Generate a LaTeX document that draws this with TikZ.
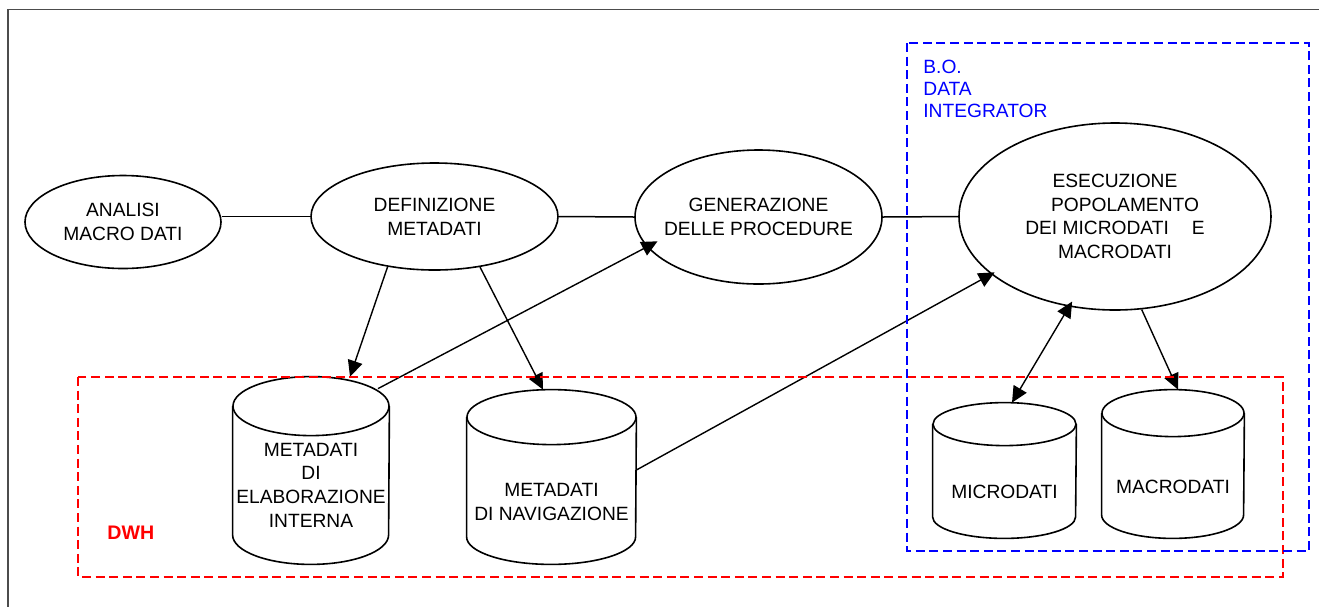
\documentclass[tikz,border=0pt]{standalone}
\usepackage{fontspec}
\setmainfont{Liberation Sans}
\usetikzlibrary{shapes.geometric,arrows.meta}

% Cylinder outline around a rectangular node: #1 node, #2 x radius, #3 y radius of the caps
\newcommand\drawdb[3]{%
  \draw[dbline] ([yshift=-#3]#1.north) ellipse [x radius=#2, y radius=#3];
  \draw[dbline] ([yshift=-#3]#1.north west) -- ([yshift=#3]#1.south west)
    arc[start angle=180, end angle=360, x radius=#2, y radius=#3]
    -- ([yshift=-#3]#1.north east);
}

\begin{document}
\begin{tikzpicture}[x=0.5pt,y=-0.5pt,
  every node/.style={font=\fontsize{9.6}{11.8}\selectfont},
  proc/.style={ellipse,draw,line width=0.8pt,inner xsep=-30pt,inner ysep=-12pt,align=center},
  dbbody/.style={rectangle,inner sep=0pt},
  dbline/.style={line width=0.8pt},
  dbtext/.style={align=center,inner sep=0pt},
  link/.style={line width=0.75pt},
  flow/.style={line width=0.7pt,-{Triangle[length=8pt,width=7.5pt]}},
  bothflow/.style={line width=0.7pt,{Triangle[length=8pt,width=7.5pt]}-{Triangle[length=8pt,width=7.5pt]}},
  zone/.style={line width=1.3pt,dash pattern=on 4.5pt off 2.3pt},
  frame/.style={line width=0.75pt,black!70}]

\useasboundingbox (0,0) rectangle (1319,607);

% outer frame
\draw[frame] (1319,9.5) -- (8,9.5) -- (8,607);

% process ellipses
\node[proc,minimum width=98pt,minimum height=46.5pt] (ana) at (123,222) {ANALISI\\MACRO DATI};
\node[proc,minimum width=123.5pt,minimum height=53.5pt] (def) at (434.5,216.5) {DEFINIZIONE\\METADATI};
\node[proc,minimum width=123.5pt,minimum height=67pt] (gen) at (758.5,217) {GENERAZIONE\\DELLE PROCEDURE};
\node[proc,minimum width=156pt,minimum height=93.5pt] (exe) at (1115,216.5)
  {ESECUZIONE\\\hspace*{10pt}POPOLAMENTO\\DEI MICRODATI\hspace{11.5pt}E\\MACRODATI};

% data stores
\node[dbbody,minimum width=78pt,minimum height=93.5pt] (elab) at (311,470.5) {};
\drawdb{elab}{39pt}{14.75pt}
\node[dbtext] (elabtext) at (311,485) {METADATI\\DI\\ELABORAZIONE\\INTERNA};

\node[dbbody,minimum width=84.5pt,minimum height=87pt] (nav) at (551.5,477) {};
\drawdb{nav}{42.25pt}{13.75pt}
\node[dbtext] (navtext) at (551.5,502) {METADATI\\DI NAVIGAZIONE};

\node[dbbody,minimum width=71.5pt,minimum height=67.5pt] (micro) at (1004.5,470.5) {};
\drawdb{micro}{35.75pt}{10.75pt}
\node[dbtext] (microtext) at (1004.5,492) {MICRODATI};

\node[dbbody,minimum width=71pt,minimum height=74pt] (macro) at (1173,464) {};
\drawdb{macro}{35.5pt}{11.75pt}
\node[dbtext] (macrotext) at (1173,487) {MACRODATI};

% plain links between the phases
\draw[link] (def.west) -- (def.west -| ana.east);
\draw[link] (def.east) -- (gen.west);
\draw[link] (gen.east) -- (exe.west);

% data flows
\draw[flow] (def.227) -- ([xshift=19.5pt]elab.north);
\draw[flow] (def.312) -- ([xshift=-4.25pt]nav.north);
\draw[flow,shorten >=-6pt] ([xshift=33.5pt,yshift=-6pt]elab.north) -- (gen.195);
\draw[flow,shorten >=-2pt] ([yshift=3.5pt]nav.east) -- (exe.205);
\draw[bothflow,shorten <=-3pt] (exe.243) -- ([xshift=3.75pt]micro.north);
\draw[flow] (exe.286) -- ([xshift=2.5pt]macro.north);

% grouping areas
\draw[zone,red] (78,377) rectangle (1283,577);
\draw[zone,blue] (907,43) rectangle (1309,551);

\node[anchor=west,text=red,font=\fontsize{9.8}{11.8}\selectfont\bfseries,inner sep=0pt] (dwh) at (107,533) {DWH};
\node[anchor=west,text=blue,align=left,inner sep=0pt,font=\fontsize{9.6}{11}\selectfont] (bo) at (923,89) {B.O.\\DATA\\INTEGRATOR};

\end{tikzpicture}
\end{document}
